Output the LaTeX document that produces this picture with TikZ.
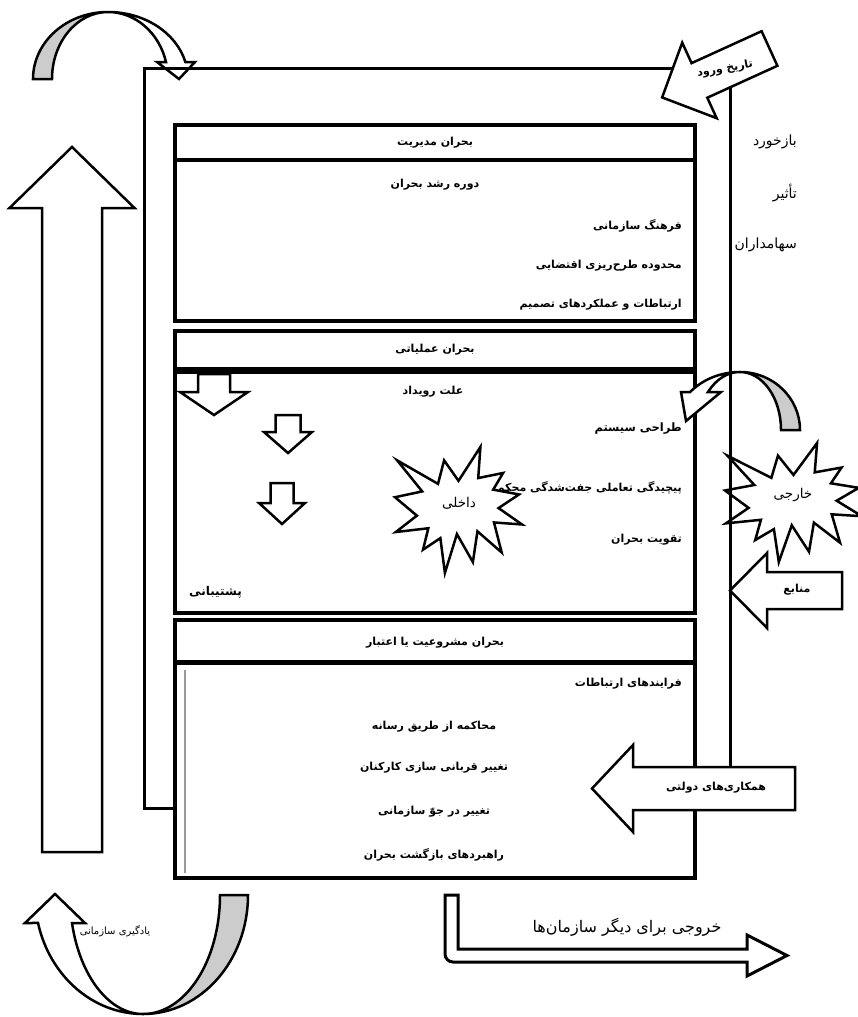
\documentclass[tikz,border=0pt]{standalone}
\usepackage{fontspec}
\usetikzlibrary{positioning}
\newfontfamily\fa[Script=Arabic]{DejaVu Sans}
\TeXXeTstate=1
\newcommand{\rl}[1]{\beginR#1\endR}
\definecolor{shadegray}{gray}{0.8}
\definecolor{rulegray}{gray}{0.6}

% straight block arrow: style, tail, direction, length, half shaft, half head, head length
\newcommand{\blockarrow}[7]{%
  \draw[#1, shift={#2}, rotate=#3] (0,-#5) -- ({#4-#7},-#5) -- ({#4-#7},-#6) -- (#4,0)
    -- ({#4-#7},#6) -- ({#4-#7},#5) -- (0,#5) -- cycle;}
% explosion outline in a 216 x 216 box: top left, xscale, yscale
\newcommand{\boom}[3]{%
  \begin{scope}[shift={#1}, xscale=#2, yscale=#3]
    \draw[blk] (108,58) -- (145.22,0) -- (141.55,53.25) -- (183.8,44.57) -- (167.02,73.15)
      -- (210.97,81.37) -- (176.07,104.75) -- (216,132.9) -- (168.37,129.42) -- (181.45,180.95)
      -- (140.2,144.57) -- (132.47,197.37) -- (105.32,149.35) -- (84.85,216) -- (77.15,156.27)
      -- (47.62,176.17) -- (56.67,139.37) -- (1.35,145.87) -- (37.22,117.75) -- (0,86.15)
      -- (46.27,76.17) -- (3.7,22.95) -- (73.12,63.2) -- (83.52,22.95) -- cycle;
  \end{scope}}

\begin{document}
\begin{tikzpicture}[
  x=1pt, y=1pt, yscale=-1,
  frame/.style={draw, line width=3pt},
  crisis/.style={draw, line width=4pt, fill=white},
  blk/.style={draw, line width=2.5pt, fill=white, line join=miter},
  shaded/.style={blk, fill=shadegray},
  txt/.style={font=\fa\bfseries\fontsize{11}{13}\selectfont, inner sep=1pt},
  thin/.style={font=\fa\fontsize{14}{16}\selectfont, inner sep=1pt}
]
\useasboundingbox (0,0) rectangle (857,1017);

% left side
\blockarrow{blk}{(72,852)}{270}{705}{30}{62.5}{61}
\draw[blk] (108,12) arc[start angle=270, end angle=345.3, x radius=80, y radius=67]
  -- (195,62) -- (179,79) -- (157,62) -- (166,62)
  arc[start angle=345.3, end angle=270, x radius=60, y radius=67] -- cycle;
\draw[shaded] (33,79) arc[start angle=180, end angle=270, x radius=75, y radius=67]
  arc[start angle=270, end angle=180, x radius=56, y radius=67] -- cycle;
\draw[blk] (143,1014) arc[start angle=90, end angle=166.4, x radius=108, y radius=119]
  -- (25,923) -- (55,894) -- (85,923) -- (72,923)
  arc[start angle=166.4, end angle=90, x radius=73, y radius=119] -- cycle;
\draw[shaded] (248,895) arc[start angle=0, end angle=90, x radius=105, y radius=119]
  arc[start angle=90, end angle=0, x radius=77, y radius=119] -- cycle;
\node[thin, font=\fa\fontsize{10}{12}\selectfont] (learning) at (115,931) {\rl{یادگیری سازمانی}};

% external star behind the frame
\boom{(725,443)}{0.634}{0.551}
\node[txt, font=\fa\fontsize{13.5}{15}\selectfont] (external) at (793,495) {\rl{خارجی}};

\draw[frame] (144,68) rectangle (730,808);

% management crisis
\draw[crisis] (175,125) rectangle (695,321);
\draw[crisis] (175,160) -- (695,160);
\node[txt] (mgmt) at (435,143) {\rl{بحران مدیریت}};
\node[txt] (growth) at (435,185) {\rl{دوره رشد بحران}};
\node[txt, anchor=east] (culture) at (683,226) {\rl{فرهنگ سازمانی}};
\node[txt, anchor=east] (planning) at (683,266) {\rl{محدوده طرح^^^^200cریزی اقتضایی}};
\node[txt, anchor=east] (decision) at (683,305) {\rl{ارتباطات و عملکردهای تصمیم}};

% operational crisis
\draw[crisis] (175,331) rectangle (695,613);
\fill (175,367) rectangle (695,374);
\node[txt] (ops) at (435,350) {\rl{بحران عملیاتی}};
\node[txt] (cause) at (433,392) {\rl{علت رویداد}};
\node[txt, font=\fa\bfseries\fontsize{11.5}{14}\selectfont, anchor=east] (design) at (683,429) {\rl{طراحی سیستم}};
\node[txt, anchor=east] (coupling) at (683,488) {\rl{پیچیدگی تعاملی جفت^^^^200cشدگی محکم}};
\node[txt, anchor=east] (amplify) at (683,540) {\rl{تقویت بحران}};
\node[txt, font=\fa\bfseries\fontsize{12}{14}\selectfont, anchor=west] (support) at (188,592) {\rl{پشتیبانی}};
\blockarrow{blk}{(214,374)}{90}{41}{16}{34}{23}
\blockarrow{blk}{(288,415)}{90}{38}{12.5}{24}{21}
\blockarrow{blk}{(282,483)}{90}{41}{11.5}{23}{21}
\boom{(395,447)}{0.588}{0.583}
\node[txt, font=\fa\fontsize{13.5}{15}\selectfont] (internal) at (459,503) {\rl{داخلی}};

% legitimacy crisis
\draw[crisis] (175,620) rectangle (695,878);
\draw[crisis, line width=5pt] (175,662) -- (695,662);
\draw[rulegray, line width=1.5pt] (185,670) -- (185,873);
\node[txt] (legit) at (435,643) {\rl{بحران مشروعیت یا اعتبار}};
\node[txt, anchor=east] (comm) at (683,684) {\rl{فرایندهای ارتباطات}};
\node[txt] (media) at (434,727) {\rl{محاکمه از طریق رسانه}};
\node[txt] (victim) at (434,768) {\rl{تغییر قربانی سازی کارکنان}};
\node[txt] (climate) at (434,812) {\rl{تغییر در جوّ سازمانی}};
\node[txt] (recovery) at (434,855) {\rl{راهبردهای بازگشت بحران}};

% right side
\draw[blk] (740,372) arc[start angle=270, end angle=220.9, x radius=66, y radius=58]
  -- (681,392) -- (686,421) -- (721,392) -- (708,392)
  arc[start angle=220.9, end angle=270, x radius=42, y radius=58] -- cycle;
\draw[shaded] (800,430) arc[start angle=360, end angle=270, x radius=60, y radius=58]
  arc[start angle=270, end angle=360, x radius=41, y radius=58] -- cycle;
\blockarrow{blk}{(769.5,48.5)}{155.5}{118}{19}{41.5}{41}
\node[txt, rotate=10] (entry) at (725,69) {\rl{تاریخ ورود}};
\node[thin, anchor=east] (feedback) at (798,142) {\rl{بازخورد}};
\node[thin, anchor=east] (impact) at (798,193) {\rl{تأثیر}};
\node[thin, anchor=east] (holders) at (798,245) {\rl{سهامداران}};
\blockarrow{blk}{(842,590.5)}{180}{112}{18.5}{37.5}{37}
\node[txt] (resources) at (797,590) {\rl{منابع}};
\blockarrow{blk}{(795,788.5)}{180}{203}{21.5}{43.5}{41}
\node[txt] (gov) at (716,788) {\rl{همکاری^^^^200cهای دولتی}};

% output
\draw[blk, line width=3pt] (445,895) -- (458,895) -- (458,949) -- (747,949) -- (747,935) -- (787,955.5)
  -- (747,976) -- (747,962) -- (453,962) arc[start angle=90, end angle=180, radius=8] -- cycle;
\node[thin, font=\fa\fontsize{16}{18}\selectfont] (output) at (627,927) {\rl{خروجی برای دیگر سازمان^^^^200cها}};
\end{tikzpicture}
\end{document}
